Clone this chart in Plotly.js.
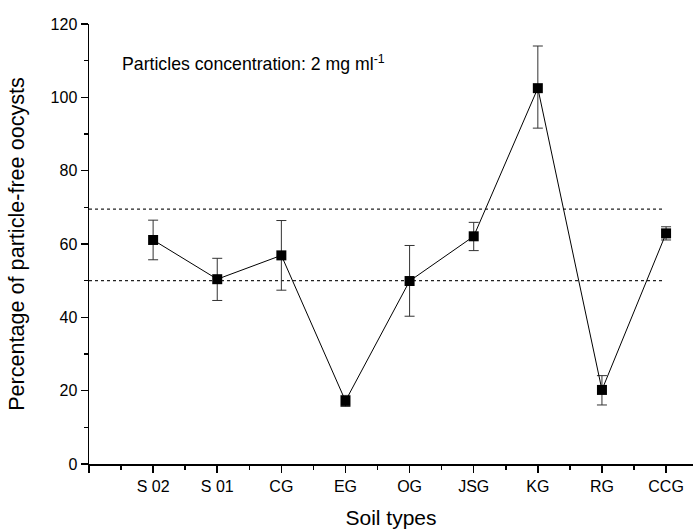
<!DOCTYPE html>
<html><head><meta charset="utf-8">
<script src="https://cdn.plot.ly/plotly-3.0.1.min.js"></script>
<style>html,body{margin:0;padding:0;background:#fff}#c{width:693px;height:531px}</style>
</head><body><div id="c"></div>
<script>
const categories = ["S 02","S 01","CG","EG","OG","JSG","KG","RG","CCG"];
const positions = [1,2,3,4,5,6,7,8,9];
const values = [61.1, 50.4, 56.9, 17.2, 49.9, 62.1, 102.5, 20.2, 62.9];
const errPlus = [5.4, 5.7, 9.5, 1.5, 9.7, 3.8, 11.5, 3.9, 1.8];
const errMinus = [5.4, 5.8, 9.5, 1.5, 9.6, 3.9, 10.9, 4.1, 1.8];
const refLines = [50, 69.5];
const refLineX = [0, 8.95];
const yTicks = [0,20,40,60,80,100,120];

const font = "Liberation Sans, Arial, sans-serif";
const traces = refLines.map(v => ({
  x: refLineX, y: [v, v], mode: 'lines', hoverinfo: 'skip', showlegend: false,
  line: {color: '#222', width: 1.2, dash: 'dot'}
}));
traces.push({
  x: positions, y: values, mode: 'lines+markers', showlegend: false,
  line: {color: '#000', width: 1},
  marker: {symbol: 'square', size: 10, color: '#000'},
  error_y: {type: 'data', symmetric: false, array: errPlus, arrayminus: errMinus,
    color: '#333', thickness: 1, width: 5}
});

const layout = {
  width: 693, height: 531,
  margin: {l: 89, r: 0, t: 24, b: 67},
  paper_bgcolor: '#fff', plot_bgcolor: '#fff',
  font: {family: font, color: '#000', size: 15},
  xaxis: {
    range: [0, 9.42], showgrid: false, zeroline: false,
    showline: true, linecolor: '#000', linewidth: 1.5,
    tickmode: 'array', tickvals: [0].concat(positions), ticktext: [" "].concat(categories),
    ticks: 'outside', ticklen: 7, tickwidth: 1.5, tickcolor: '#000',
    tickfont: {family: font, size: 16},
    minor: {tickmode: 'array', tickvals: [0.5,1.5,2.5,3.5,4.5,5.5,6.5,7.5,8.5], ticks: 'outside', ticklen: 4, tickwidth: 1.5, tickcolor: '#000'},
    title: {text: 'Soil types', font: {family: font, size: 21}, standoff: 16}
  },
  yaxis: {
    range: [0, 120], showgrid: false, zeroline: false,
    showline: true, linecolor: '#000', linewidth: 1.5,
    tickmode: 'array', tickvals: yTicks,
    ticks: 'outside', ticklen: 7, tickwidth: 1.5, tickcolor: '#000',
    tickfont: {family: font, size: 16},
    minor: {dtick: 10, tick0: 10, ticks: 'outside', ticklen: 4, tickwidth: 1.5, tickcolor: '#000'},
    title: {text: 'Percentage of particle-free oocysts', font: {family: font, size: 21.6}, standoff: 20}
  },
  annotations: [{
    xref: 'paper', yref: 'paper', x: 0.052, y: 0.912, xanchor: 'left', yanchor: 'middle',
    text: 'Particles concentration: 2 mg ml<sup>-1</sup>', showarrow: false,
    font: {family: font, size: 17.7, color: '#000'}
  }]
};
Plotly.newPlot('c', traces, layout, {displayModeBar: false, staticPlot: true});
</script></body></html>
